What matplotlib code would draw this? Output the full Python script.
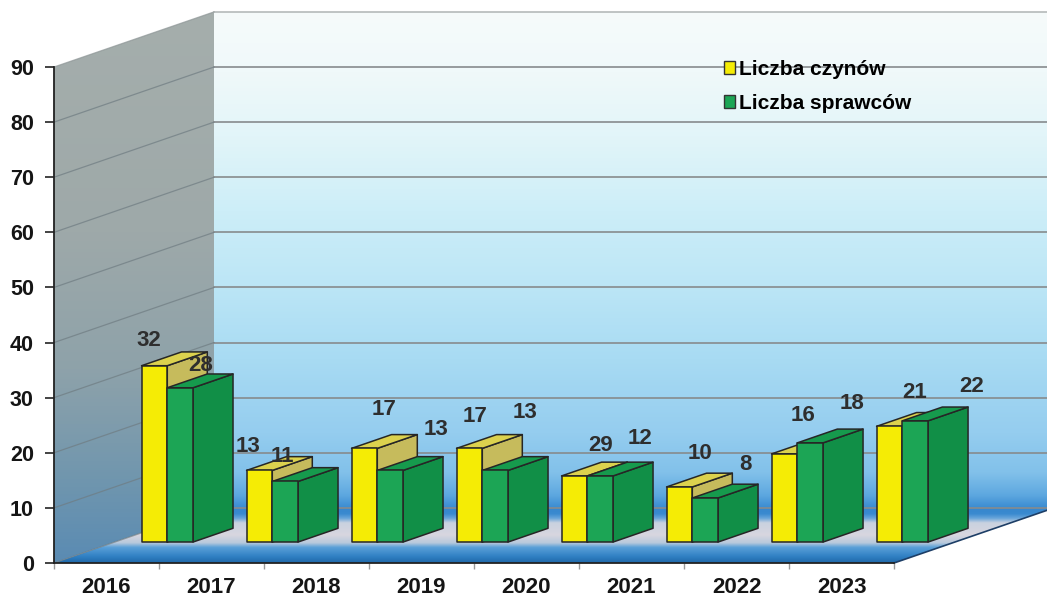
import numpy as np
import matplotlib
matplotlib.use("Agg")
import matplotlib.pyplot as plt
from matplotlib.patches import Polygon, Patch
from matplotlib.colors import LinearSegmentedColormap

# ---------------- data ----------------
years = ["2016", "2017", "2018", "2019", "2020", "2021", "2022", "2023"]
series_names = ["Liczba czynów", "Liczba sprawców"]
czyny_bar = [32, 13, 17, 17, 12, 10, 16, 21]        # bar heights as drawn
czyny_labels = [32, 13, 17, 17, 29, 10, 16, 21]     # numbers printed above bars
sprawcy = [28, 11, 13, 13, 12, 8, 18, 22]
y_ticks = list(range(0, 100, 10))

# ---------------- layout / style ----------------
DX, DY = 1.524, 10.0          # depth vector (data units)
F0, F1 = 0.38, 0.63           # bar front/back depth fraction
BAR_W = 0.245
GROUP_LEFT = 0.255
YMAX = 90

# label offsets (pixels, right / down) relative to default spot
lab_off_y = [(-26, 9), (-31, 10), (0, -5), (-14, 2), (6, 3), (1, 0), (-1, -4), (5, 0)]
lab_off_g = [(0, 12), (-23, 9), (26, -7), (10, -24), (20, -4), (20, 0), (22, -5), (36, 0)]

YEL = dict(front="#f5ec05", top="#dcd24e", side="#c6bb5c")
GRN = dict(front="#1ca555", top="#169a4d", side="#118f47")
EDGE = "#262626"

plt.rcParams["font.family"] = ["Liberation Sans", "DejaVu Sans"]

fig = plt.figure(figsize=(10.47, 5.98), dpi=100)
ax = fig.add_axes([0, 0, 1, 1])
ax.set_facecolor("white")

XMIN, XMAX = -0.514, 9.457
YMIN, YTOP = -6.35, 102.16


def gradient_fill(verts, stops, y0, y1, zorder):
    cmap = LinearSegmentedColormap.from_list("g", stops)
    grad = np.linspace(0, 1, 256).reshape(-1, 1)
    xs = [v[0] for v in verts]
    im = ax.imshow(grad, extent=(min(xs), max(xs), y0, y1), origin="lower",
                   cmap=cmap, aspect="auto", zorder=zorder, interpolation="bilinear")
    poly = Polygon(verts, closed=True, facecolor="none", edgecolor="none")
    ax.add_patch(poly)
    im.set_clip_path(poly)


n = len(years)
# back wall
gradient_fill([(DX, DY), (DX, YMAX + DY), (XMAX + 1, YMAX + DY), (XMAX + 1, DY)],
              [(0.0, "#3c8dd2"), (0.025, "#5ea8e0"), (0.07, "#82c1ea"), (0.15, "#95cdef"),
               (0.3, "#a8dbf3"), (0.45, "#bce6f6"), (0.6, "#cdeef8"), (0.75, "#e2f5f9"),
               (0.88, "#f0f9fa"), (1.0, "#f6fbfb")], DY, YMAX + DY, 0.5)
# left wall
gradient_fill([(0, 0), (0, YMAX), (DX, YMAX + DY), (DX, DY)],
              [(0.0, "#5a8bb3"), (0.15, "#7096ae"), (0.35, "#8ea2aa"), (0.6, "#9ea9a9"),
               (1.0, "#a5aeac")], 0, YMAX + DY, 0.5)
# floor
gradient_fill([(0, 0), (n, 0), (n + DX, DY), (DX, DY)],
              [(0.0, "#1f68a8"), (0.12, "#3181c4"), (0.28, "#5aa0d8"), (0.36, "#b8c9dc"),
               (0.5, "#d8d6df"), (0.72, "#c9d2e0"), (0.8, "#6aa6da"), (0.88, "#3a8ad0"),
               (1.0, "#3686cd")],
              0, DY, 0.5)

# gridlines
for v in y_ticks:
    col = "#b5baba" if v == YMAX else "#878b8d"
    ax.plot([DX, XMAX + 1], [v + DY, v + DY], color=col, lw=1.2, zorder=1)
    ax.plot([0, DX], [v, v + DY], color="#6f7c82" if v < YMAX else "#8d9596",
            lw=0.9, alpha=0.7, zorder=1)
# floor right edge
ax.plot([n, n + DX], [0, DY], color="#1d3e66", lw=1.2, zorder=1.5)


def draw_bar(x0, w, h, colors, z):
    a0, b0 = F0 * DX, F0 * DY
    a1, b1 = F1 * DX, F1 * DY
    front = [(x0 + a0, b0), (x0 + w + a0, b0), (x0 + w + a0, b0 + h), (x0 + a0, b0 + h)]
    top = [(x0 + a0, h + b0), (x0 + w + a0, h + b0), (x0 + w + a1, h + b1), (x0 + a1, h + b1)]
    side = [(x0 + w + a0, b0), (x0 + w + a1, b1), (x0 + w + a1, h + b1), (x0 + w + a0, h + b0)]
    for verts, key in ((side, "side"), (top, "top"), (front, "front")):
        ax.add_patch(Polygon(verts, closed=True, facecolor=colors[key], edgecolor=EDGE,
                             lw=1.1, joinstyle="round", zorder=z))
    return x0 + w / 2 + (a0 + a1) / 2, h + (b0 + b1) / 2


label_style = dict(fontsize=16, fontweight="bold", color="#2e2e2e", ha="center",
                   va="center", textcoords="offset pixels", zorder=20)
for i in range(n):
    xl = i + GROUP_LEFT
    xm, ym = draw_bar(xl, BAR_W, czyny_bar[i], YEL, 3 + 2 * i)
    ax.annotate(str(czyny_labels[i]), xy=(xm, ym),
                xytext=(lab_off_y[i][0], 27 - lab_off_y[i][1]), **label_style)
    xm, ym = draw_bar(xl + BAR_W, BAR_W, sprawcy[i], GRN, 4 + 2 * i)
    ax.annotate(str(sprawcy[i]), xy=(xm, ym),
                xytext=(lab_off_g[i][0], 27 - lab_off_g[i][1]), **label_style)

# axes
ax.set_xlim(XMIN, XMAX)
ax.set_ylim(YMIN, YTOP)
for s in ("top", "right"):
    ax.spines[s].set_visible(False)
ax.spines["left"].set_position(("data", 0))
ax.spines["left"].set_bounds(0, YMAX)
ax.spines["bottom"].set_position(("data", 0))
ax.spines["bottom"].set_bounds(0, n)
for s in ("left", "bottom"):
    ax.spines[s].set_color("#222222")
    ax.spines[s].set_linewidth(1.3)
    ax.spines[s].set_zorder(2)

ax.set_yticks(y_ticks)
ax.set_yticklabels([str(v) for v in y_ticks])
ax.tick_params(axis="y", direction="out", length=6.5, width=1.2, color="#222222",
               pad=8, labelsize=15.5, labelcolor="#151515")
ax.set_xticks(range(0, n + 1))
ax.set_xticklabels([])
ax.set_xticks([i + 0.5 for i in range(n)], minor=True)
ax.set_xticklabels(years, minor=True)
ax.tick_params(axis="x", which="major", direction="out", length=4, width=1, color="#9a9a9a")
ax.tick_params(axis="x", which="minor", length=0, pad=10, labelsize=16, labelcolor="#151515")
for lab in ax.get_yticklabels() + ax.get_xticklabels(minor=True):
    lab.set_fontweight("bold")

handles = [Patch(facecolor=YEL["front"], edgecolor="#333333", lw=1.0),
           Patch(facecolor=GRN["front"], edgecolor="#333333", lw=1.0)]
fig.legend(handles, series_names, loc="upper left",
           bbox_to_anchor=(724 / 1047, 1 - 60 / 598), bbox_transform=fig.transFigure,
           frameon=False, prop=dict(weight="bold", size=15), handlelength=0.55,
           handleheight=0.55, handletextpad=0.15, labelspacing=0.72, borderpad=0,
           borderaxespad=0)

fig.savefig("out.png", dpi=100)
